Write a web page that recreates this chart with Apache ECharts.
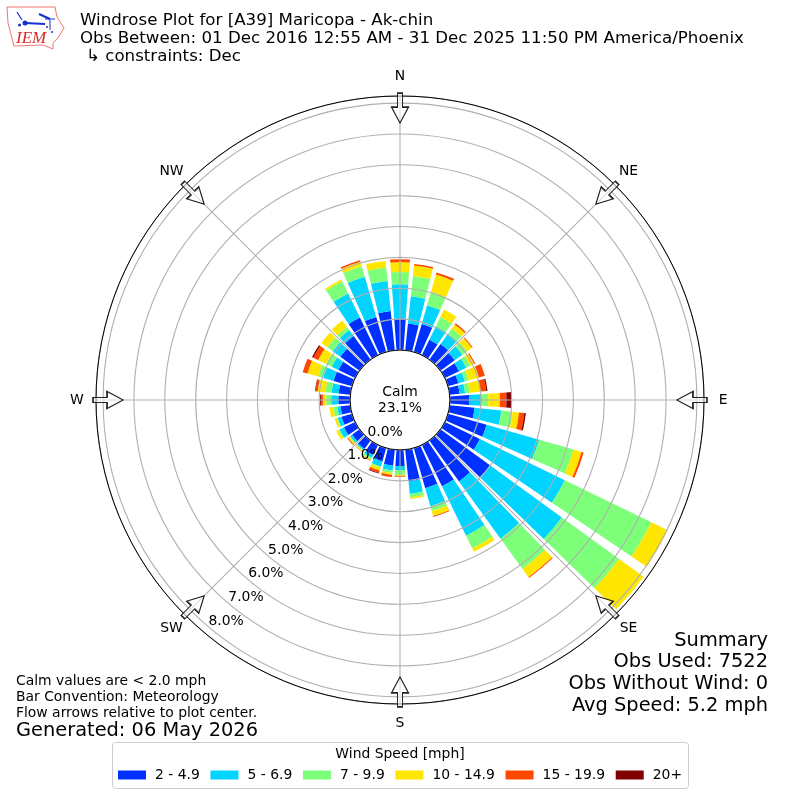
<!DOCTYPE html>
<html><head><meta charset="utf-8">
<style>html,body{margin:0;padding:0;background:#fff}#c{width:800px;height:800px}</style>
<script src="https://cdn.jsdelivr.net/npm/echarts@6/dist/echarts.min.js"></script>
</head><body><div id="c"></div>
<script>
const directions = [0,10,20,30,40,50,60,70,80,90,100,110,120,130,140,150,160,170,180,190,200,210,220,230,240,250,260,270,280,290,300,310,320,330,340,350];
const speed2to5 = [1.02,.87,.94,.55,.62,.57,.51,.35,.32,.62,.81,1.3,1.26,1.98,1.64,1.49,1.35,1.03,.52,.52,.45,.36,.34,.3,.4,.35,.32,.38,.38,.62,.6,.77,.94,1.35,1.18,1.28];
const speed5to7 = [1.11,.89,.63,.49,.41,.31,.26,.22,.18,.41,.87,1.77,3.06,2.88,2.29,1.78,.61,.41,.13,.16,.17,.1,.05,.08,.16,.13,.1,.23,.23,.35,.24,.3,.24,.87,1.35,.98];
const speed7to10 = [.4,.66,.46,.33,.21,.18,.14,.13,.15,.21,.37,1.16,3.12,2.29,1.21,.46,.16,.11,.16,.08,.04,.06,.03,.02,.04,.03,.13,.16,.2,.17,.2,.22,.12,.44,.36,.44];
const speed10to15 = [.32,.34,.58,.27,.16,.2,.14,.34,.35,.38,.21,.27,.59,.98,.33,.12,.17,.05,.03,.06,.1,.03,.03,.06,.08,.07,.13,.11,.25,.36,.29,.24,.26,.06,.15,.21];
const speed15to20 = [.09,.05,.07,0,.05,.03,.04,.2,.19,.21,.17,.07,0,0,.03,0,.03,0,.03,.07,.08,.02,.01,.03,0,0,0,.06,.07,.16,.17,0,0,0,.05,0];
const speed20plus = [0,0,0,0,0,0,0,0,.04,.17,.05,0,0,0,0,0,0,0,0,0,.02,0,0,0,0,0,0,.03,.02,0,.05,0,0,0,0,0];
const binNames = ['2 - 4.9','5 - 6.9','7 - 9.9','10 - 14.9','15 - 19.9','20+'];
const binColors = ['#0030ff','#00d4ff','#7dff7a','#ffe600','#ff4700','#800000'];
const binValues = [speed2to5,speed5to7,speed7to10,speed10to15,speed15to20,speed20plus];
const compassNames = ['N','NE','E','SE','S','SW','W','NW'];
const compassAngles = [0,45,90,135,180,225,270,315];
const radialTicks = [0,1,2,3,4,5,6,7,8];

const FONT = '"DejaVu Sans"';
const txt = (x,y,text,size,align) => ({type:'text',x,y,z:20,silent:true,style:{text,fill:'#000',font:size+'px '+FONT,textAlign:align||'left',textVerticalAlign:'middle'}});
const line = (x1,y1,x2,y2,w,color) => ({type:'line',z:20,silent:true,shape:{x1,y1,x2,y2},style:{stroke:color||'#1a2fd0',lineWidth:w}});

const series = binNames.map((name,i)=>({
  name, type:'bar', coordinateSystem:'polar', stack:'wind', barWidth:8.1, z:2, silent:true,
  itemStyle:{color:binColors[i]},
  data: binValues[i].map((v,k)=>[v,directions[k]])
}));
// inward-pointing flow arrows
series.push({
  type:'scatter', coordinateSystem:'polar', clip:false, z:6, silent:true,
  symbol:'path://M6 0 L6 14 L0 14 L8.5 30 L17 14 L11 14 L11 0 Z',
  symbolSize:[17,30],
  itemStyle:{color:'rgba(255,255,255,0.55)',borderColor:'#222',borderWidth:1.3,opacity:1},
  data: compassAngles.map(a=>({value:[7.84,a],symbolRotate:-a}))
});
// compass labels
series.push({
  type:'scatter', coordinateSystem:'polar', clip:false, z:7, silent:true, symbolSize:0,
  itemStyle:{opacity:1},
  label:{show:true,position:'inside',formatter:p=>p.name,color:'#000',fontFamily:FONT,fontSize:13.9},
  data: compassAngles.map((a,i)=>({name:compassNames[i],value:[8.85,a]}))
});
// radial tick labels
series.push({
  type:'scatter', coordinateSystem:'polar', clip:false, z:7, silent:true, symbolSize:0,
  itemStyle:{opacity:1},
  label:{show:true,position:'inside',offset:[17.3,-6.2],formatter:p=>p.name,color:'#000',fontFamily:FONT,fontSize:13.9},
  data: radialTicks.map(v=>({name:v.toFixed(1)+'%',value:[v,220.1]}))
});

const graphic = [
  {type:'rect',z:1,silent:true,shape:{x:112.5,y:742.5,width:576,height:46,r:3},style:{fill:'#fff',stroke:'#ccc',lineWidth:1}},
  txt(80,21,'Windrose Plot for [A39] Maricopa - Ak-chin',16.67),
  txt(80,39,'Obs Between: 01 Dec 2016 12:55 AM - 31 Dec 2025 11:50 PM America/Phoenix',16.67),
  txt(86,57,'↳ constraints: Dec',16.67),
  txt(400,392,'Calm',13.9,'center'),
  txt(400,408,'23.1%',13.9,'center'),
  txt(768,641,'Summary',19.4,'right'),
  txt(768,662,'Obs Used: 7522',19.4,'right'),
  txt(768,684,'Obs Without Wind: 0',19.4,'right'),
  txt(768,706,'Avg Speed: 5.2 mph',19.4,'right'),
  txt(16,681,'Calm values are < 2.0 mph',13.9),
  txt(16,697,'Bar Convention: Meteorology',13.9),
  txt(16,713,'Flow arrows relative to plot center.',13.9),
  txt(16,731,'Generated: 06 May 2026',19.4),
  txt(400,754,'Wind Speed [mph]',13.9,'center'),
  {type:'polygon',z:20,silent:true,shape:{points:[[7,7],[55,7],[57,17],[64,28],[58,38],[53,43],[53,49],[43,45],[14,46],[8,23]]},style:{fill:'#fff',stroke:'#e77',lineWidth:1}},
  line(25,23,45,24,2), line(17,12,22,20,1.2), line(39,14,50,19,2), line(45,19,55,19,1), line(50,20,50,30,1),
  {type:'circle',z:20,silent:true,shape:{cx:25,cy:23,r:2.5},style:{fill:'#1a2fd0'}},
  {type:'circle',z:20,silent:true,shape:{cx:19.5,cy:25,r:1.5},style:{fill:'#1a2fd0'}},
  {type:'circle',z:20,silent:true,shape:{cx:47,cy:27,r:1},style:{fill:'#1a2fd0'}},
  {type:'circle',z:20,silent:true,shape:{cx:52,cy:32,r:1},style:{fill:'#1a2fd0'}},
  {type:'text',x:16,y:39,z:20,silent:true,style:{text:'IEM',fill:'#d42a2a',font:'italic 17px "Liberation Serif"',textVerticalAlign:'middle'}}
];

const chart = echarts.init(document.getElementById('c'),null,{width:800,height:800});
chart.setOption({
  animation:false,
  backgroundColor:'#fff',
  polar:{center:[400,400],radius:[50,304]},
  angleAxis:{type:'value',min:0,max:360,interval:45,startAngle:90,clockwise:true,z:5,
    axisLine:{show:true,lineStyle:{color:'#000',width:1}},axisTick:{show:false},axisLabel:{show:false},
    splitLine:{show:true,lineStyle:{color:'#b0b0b0',width:1.1}}},
  radiusAxis:{type:'value',min:0,max:8.23,interval:1,z:4,
    axisLine:{show:false},axisTick:{show:false},axisLabel:{show:false},
    splitLine:{show:true,lineStyle:{color:'#b0b0b0',width:1.1}}},
  legend:{left:113,top:763,data:binNames,icon:'rect',itemWidth:28,itemHeight:9,itemGap:10.7,selectedMode:false,z:10,
    textStyle:{color:'#000',fontFamily:FONT,fontSize:13.9,padding:[0,0,0,4]}},
  series, graphic
});
</script></body></html>
